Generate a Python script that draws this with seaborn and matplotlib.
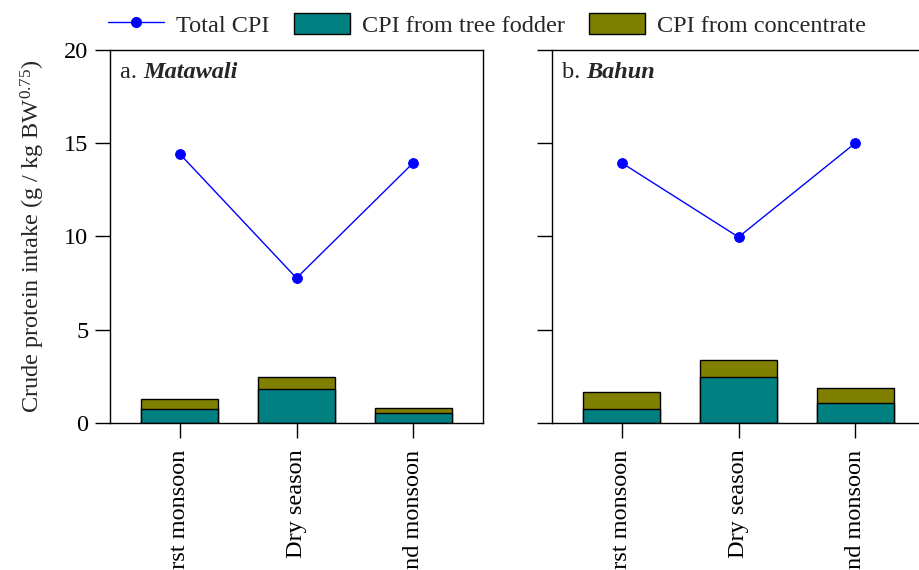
import numpy as np
import pandas as pd
import matplotlib
matplotlib.use("Agg")
import matplotlib.pyplot as plt
from matplotlib.lines import Line2D
from matplotlib.patches import Patch
import seaborn as sns

seasons = ["First monsoon", "Dry season", "Second monsoon"]

# Matawali
mat_total = [14.42, 7.77, 13.94]
mat_fodder = [0.73, 1.81, 0.52]
mat_conc = [0.56, 0.64, 0.30]

# Bahun
bah_total = [13.94, 9.97, 15.0]
bah_fodder = [0.77, 2.45, 1.06]
bah_conc = [0.91, 0.91, 0.80]

panels = [("a. ", "Matawali", mat_total, mat_fodder, mat_conc),
          ("b. ", "Bahun", bah_total, bah_fodder, bah_conc)]

sns.set_theme(style="ticks")
plt.rcParams["font.family"] = ["Liberation Serif", "DejaVu Serif"]
plt.rcParams["mathtext.fontset"] = "custom"
plt.rcParams["mathtext.rm"] = "Liberation Serif"
plt.rcParams["mathtext.it"] = "Liberation Serif:italic"

TEAL = "#008080"
OLIVE = "#808000"
BLUE = "#0000FF"
FS = 17.5

W, H = 919, 570
fig = plt.figure(figsize=(W / 100, H / 100), dpi=100)
fig.patch.set_facecolor("white")

ax_left_px = [110, 552]
ax_w, top_px, bot_px = 373, 50, 423

for i, (prefix, name, total, fodder, conc) in enumerate(panels):
    ax = fig.add_axes([ax_left_px[i] / W, (H - bot_px) / H, ax_w / W, (bot_px - top_px) / H])
    ax.set_facecolor("white")
    df = pd.DataFrame({"season": seasons, "total": total, "fodder": fodder,
                       "stack": np.array(fodder) + np.array(conc)})
    sns.barplot(data=df, x="season", y="stack", order=seasons, color=OLIVE, saturation=1,
                width=0.66, edgecolor="black", linewidth=1.0, ax=ax)
    sns.barplot(data=df, x="season", y="fodder", order=seasons, color=TEAL, saturation=1,
                width=0.66, edgecolor="black", linewidth=1.0, ax=ax)
    sns.pointplot(data=df, x="season", y="total", order=seasons, color=BLUE,
                  errorbar=None, markers="o", markersize=7, linewidth=1.0, ax=ax)
    ax.set_xlim(-0.6, 2.6)
    ax.set_ylim(0, 20)
    ax.set_yticks([0, 5, 10, 15, 20])
    ax.set_xlabel("")
    ax.set_ylabel("")
    for s in ax.spines.values():
        s.set_color("black")
        s.set_linewidth(1.0)
    ax.tick_params(axis="both", direction="out", length=10.5, width=1.0, color="black",
                   labelsize=FS, pad=8.5, labelcolor="black")
    ax.tick_params(axis="x", labelrotation=90)
    if i == 0:
        ax.set_ylabel(r"Crude protein intake (g / kg BW$^{\mathrm{0.75}}$)", fontsize=FS)
        ax.yaxis.set_label_coords(-0.17, 0.5)
        ax.tick_params(axis="y", pad=5)
    else:
        ax.tick_params(axis="y", labelleft=False)
    t = ax.text(0.027, 0.925, prefix, transform=ax.transAxes, fontsize=FS,
                ha="left", va="baseline")
    ax.annotate(name, xy=(1, 0), xycoords=t, xytext=(0, 0), textcoords="offset points",
                ha="left", va="bottom", fontsize=FS, fontweight="bold", fontstyle="italic")

handles = [Line2D([0], [0], color=BLUE, lw=1.0, marker="o", markersize=7),
           Patch(facecolor=TEAL, edgecolor="black", linewidth=1.0),
           Patch(facecolor=OLIVE, edgecolor="black", linewidth=1.0)]
labels = ["Total CPI", "CPI from tree fodder", "CPI from concentrate"]
fig.legend(handles, labels, loc="upper left", bbox_to_anchor=(108 / W, 1 - 13 / H),
           ncol=3, frameon=False, fontsize=FS, borderpad=0, handlelength=2.3,
           handleheight=0.95, handletextpad=0.5, columnspacing=1.0, borderaxespad=0)

fig.savefig("out.png", dpi=100)
